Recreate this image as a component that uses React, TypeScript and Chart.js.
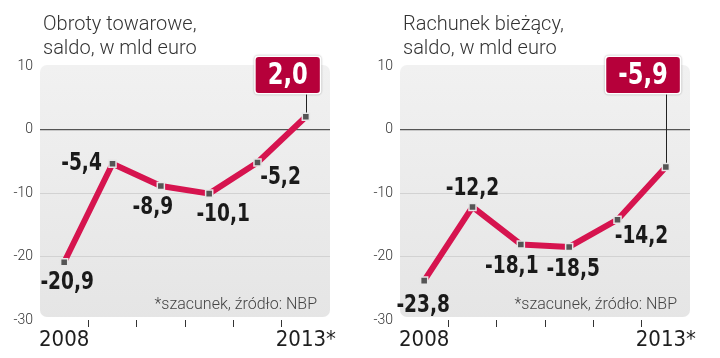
import React, { useEffect, useRef } from 'react';
import { Chart, registerables } from 'chart.js';

Chart.register(...registerables);

// ---------- data ----------
const years = ['2008', '2009', '2010', '2011', '2012', '2013*'];
const shownYearLabels = ['2008', '2013*'];
const yTickValues = [10, 0, -10, -20, -30];

const tradeTitle = ['Obroty towarowe,', 'saldo, w mld euro'];
const tradeValues = [-20.9, -5.4, -8.9, -10.1, -5.2, 2.0];

const accountTitle = ['Rachunek bieżący,', 'saldo, w mld euro'];
const accountValues = [-23.8, -12.2, -18.1, -18.5, -14.2, -5.9];

const sourceNote = '*szacunek, źródło: NBP';

// ---------- label placement (offsets from point, px) ----------
const tradeLabelOffsets: (number[] | null)[] = [[3, 21], [-31, 0], [-8, 22], [14, 21], [23, 15], null];
const accountLabelOffsets: (number[] | null)[] = [[-1, 25], [0, -18], [-9, 22], [4, 23], [24, 17], null];

const LINE_COLOR = '#d6144f';
const BOX_COLOR = '#b6003a';
const COND_FAMILY = '"DejaVu Sans Condensed", "DejaVu Sans", sans-serif';

const fmt = (v: number) => v.toFixed(1).replace('.', ',');

function condensedText(ctx: CanvasRenderingContext2D, text: string, x: number, y: number, sx: number) {
  ctx.save();
  ctx.translate(x, y);
  ctx.scale(sx, 1);
  ctx.fillText(text, 0, 0);
  ctx.restore();
}

const panelPlugin = {
  id: 'panel',
  beforeDraw(chart: any, _args: any, opts: any) {
    const { ctx, chartArea } = chart;
    const { left, right, top, bottom } = chartArea;
    ctx.save();
    ctx.fillStyle = '#333';
    ctx.font = '300 20px Roboto, sans-serif';
    ctx.textAlign = 'left';
    ctx.textBaseline = 'alphabetic';
    (opts.title as string[]).forEach((t, i) => ctx.fillText(t, 43, 30 + i * 24));
    const grad = ctx.createLinearGradient(0, top, 0, bottom);
    grad.addColorStop(0, '#f1f1f1');
    grad.addColorStop(1, '#e5e5e5');
    ctx.fillStyle = grad;
    ctx.beginPath();
    ctx.roundRect(left, top - 1, right - left, bottom - top - 2, 7);
    ctx.fill();
    ctx.restore();
  },
  beforeDatasetsDraw(chart: any) {
    const { ctx, chartArea } = chart;
    const meta = chart.getDatasetMeta(0);
    const last = meta.data[meta.data.length - 1];
    ctx.save();
    ctx.strokeStyle = '#222';
    ctx.lineWidth = 1;
    ctx.beginPath();
    ctx.moveTo(Math.round(last.x) + 0.5, chartArea.top + 26);
    ctx.lineTo(Math.round(last.x) + 0.5, last.y);
    ctx.stroke();
    ctx.restore();
  },
  afterDatasetsDraw(chart: any, _args: any, opts: any) {
    const { ctx, chartArea } = chart;
    const meta = chart.getDatasetMeta(0);
    const values: number[] = chart.data.datasets[0].data;
    const offsets: (number[] | null)[] = opts.offsets;
    ctx.save();
    ctx.fillStyle = '#1a1a1a';
    ctx.font = `bold 24px ${COND_FAMILY}`;
    ctx.textAlign = 'center';
    ctx.textBaseline = 'middle';
    meta.data.forEach((pt: any, i: number) => {
      const off = offsets[i];
      if (!off) return;
      condensedText(ctx, fmt(values[i]), pt.x + off[0], pt.y + off[1], 0.86);
    });
    // highlighted last value box
    const li = values.length - 1;
    const lp = meta.data[li];
    ctx.font = `bold 30px ${COND_FAMILY}`;
    const txt = fmt(values[li]);
    const sx = 0.84;
    const tw = ctx.measureText(txt).width * sx;
    const bw = tw + 24;
    const bh = 36;
    const bx = lp.x + 14 - bw;
    const by = chartArea.top - 9;
    ctx.shadowColor = 'rgba(0,0,0,0.35)';
    ctx.shadowBlur = 2;
    ctx.fillStyle = '#ffffff';
    ctx.beginPath();
    ctx.roundRect(bx - 1.5, by - 1.5, bw + 3, bh + 3, 4);
    ctx.fill();
    ctx.shadowColor = 'transparent';
    ctx.fillStyle = BOX_COLOR;
    ctx.beginPath();
    ctx.roundRect(bx, by, bw, bh, 3);
    ctx.fill();
    ctx.fillStyle = '#ffffff';
    condensedText(ctx, txt, bx + bw / 2, by + bh / 2 + 1, sx);
    // footnote
    ctx.fillStyle = '#444';
    ctx.font = '300 16px Roboto, sans-serif';
    ctx.textAlign = 'right';
    ctx.textBaseline = 'alphabetic';
    ctx.fillText(opts.note, chartArea.right - 13, chartArea.bottom - 11);
    ctx.restore();
  },
};

function Panel({ title, values, offsets }: { title: string[]; values: number[]; offsets: (number[] | null)[] }) {
  const ref = useRef<HTMLCanvasElement | null>(null);
  useEffect(() => {
    if (!ref.current) return;
    const chart = new Chart(ref.current, {
      type: 'line',
      data: {
        labels: years,
        datasets: [
          {
            data: values,
            borderColor: LINE_COLOR,
            borderWidth: 6,
            tension: 0,
            fill: false,
            pointStyle: 'rect',
            pointRadius: 5,
            pointHoverRadius: 5,
            pointBackgroundColor: '#555',
            pointBorderColor: '#e6e6e6',
            pointBorderWidth: 1.5,
            borderJoinStyle: 'round',
          },
        ],
      },
      options: {
        responsive: false,
        animation: false,
        devicePixelRatio: 1,
        layout: { padding: { top: 66, right: 30, left: 0, bottom: 0 } },
        plugins: {
          legend: { display: false },
          tooltip: { enabled: false },
          panel: { title, offsets, note: sourceNote },
        } as any,
        scales: {
          x: {
            type: 'category',
            offset: true,
            afterFit: (s: any) => { s.height = 38; },
            border: { display: false },
            grid: {
              offset: true,
              drawOnChartArea: false,
              drawTicks: true,
              tickLength: 7,
              lineWidth: 1,
              color: (c: any) => (c.index === undefined || c.index === 0 || c.type !== 'tick' ? 'transparent' : '#333'),
            },
            ticks: {
              autoSkip: false,
              maxRotation: 0,
              padding: 0,
              color: '#1e1e1e',
              font: { family: COND_FAMILY, size: 22 },
              callback: (_v: any, i: number) => (shownYearLabels.includes(years[i]) ? years[i] : ''),
            },
          },
          y: {
            min: -30,
            max: 10,
            afterFit: (s: any) => { s.width = 40; },
            afterBuildTicks: (s: any) => { s.ticks = yTickValues.map((v) => ({ value: v })); },
            border: { display: false },
            grid: {
              drawTicks: false,
              color: (c: any) => {
                const v = c.tick ? c.tick.value : null;
                if (v === 0) return '#555';
                if (v === -10 || v === -20) return '#d2d2d2';
                return 'transparent';
              },
              lineWidth: (c: any) => (c.tick && c.tick.value === 0 ? 1.3 : 1),
            },
            ticks: {
              padding: 7,
              color: '#333',
              font: { family: 'Roboto, sans-serif', size: 14, weight: 300 as any },
            },
          },
        },
      },
      plugins: [panelPlugin as any],
    });
    return () => chart.destroy();
  }, [title, values, offsets]);
  return <canvas ref={ref} width={360} height={358} style={{ width: 360, height: 358, display: 'block' }} />;
}

export default function App() {
  return (
    <div style={{ position: 'absolute', left: 0, top: 0, width: 720, height: 358, display: 'flex', background: '#fff' }}>
      <Panel title={tradeTitle} values={tradeValues} offsets={tradeLabelOffsets} />
      <Panel title={accountTitle} values={accountValues} offsets={accountLabelOffsets} />
    </div>
  );
}
